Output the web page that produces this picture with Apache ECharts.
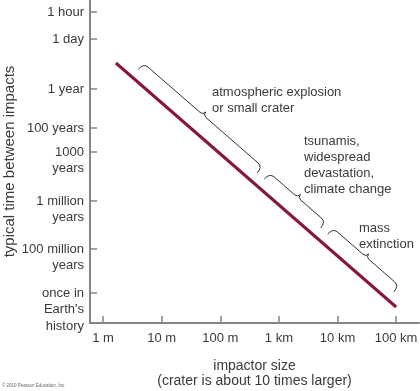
<!DOCTYPE html>
<html>
<head>
<meta charset="utf-8">
<script src="https://cdn.jsdelivr.net/npm/echarts@6/dist/echarts.min.js"></script>
<style>html,body{margin:0;padding:0;background:#fff;}#chart{width:420px;height:391px;}</style>
</head>
<body>
<div id="chart"></div>
<script>
// ---- data ----
// x: log10 of impactor size in metres
var xTickValues = [0, 1, 2, 3, 4, 5];
var xTickLabels = ['1 m', '10 m', '100 m', '1 km', '10 km', '100 km'];
// y: schematic position of the (non-uniform) time scale
var yTickValues = [311, 284, 234, 195, 171, 122, 74, 30];
var yTickLabels = ['1 hour', '1 day', '1 year', '100 years', '1000\nyears', '1 million\nyears', '100 million\nyears', "once in\nEarth's\nhistory"];
// the impact-frequency line
var lineSize = [0.22, 5.0];
var lineTime = [260, 16];
// braces: ranges of impactor size (log10 m)
var braceStart = [0.49, 2.64, 3.72];
var braceEnd = [2.52, 3.60, 4.85];
var braceLabels = ['atmospheric explosion\nor small crater', 'tsunamis,\nwidespread\ndevastation,\nclimate change', 'mass\nextinction'];

// ---- chart ----
var FONT = '"Liberation Sans", Arial, sans-serif';
var TXT = '#3a3a3a';
var AX = '#858585';

function timeAt(x) {
  return lineTime[0] + (x - lineSize[0]) * (lineTime[1] - lineTime[0]) / (lineSize[1] - lineSize[0]);
}
var lineData = lineSize.map(function (x, i) { return [x, lineTime[i]]; });
var braceData = braceStart.map(function (s, i) {
  return [s, timeAt(s), braceEnd[i], timeAt(braceEnd[i])];
});

var labelPos = [[212, 84], [304, 133], [359, 220]];

var chart = echarts.init(document.getElementById('chart'), null, {renderer: 'canvas'});
chart.setOption({
  animation: false,
  backgroundColor: '#fff',
  textStyle: {fontFamily: FONT},
  grid: {left: 90, right: 1, top: 0, bottom: 68, containLabel: false, outerBoundsMode: 'none'},
  xAxis: {
    type: 'value', min: -0.222, max: 5.39,
    name: 'impactor size\n(crater is about 10 times larger)',
    nameLocation: 'middle', nameGap: 36, nameMoveOverlap: false,
    nameTextStyle: {fontSize: 14, color: TXT, lineHeight: 15, fontFamily: FONT},
    axisLine: {show: true, onZero: false, lineStyle: {color: AX, width: 2}},
    axisTick: {show: true, inside: true, length: 7, customValues: xTickValues, lineStyle: {color: AX, width: 1.5}},
    axisLabel: {
      customValues: xTickValues, margin: 9, fontSize: 13, color: TXT, fontFamily: FONT,
      hideOverlap: false, showMinLabel: true, showMaxLabel: true,
      formatter: function (v) { var i = xTickValues.indexOf(Math.round(v)); return i >= 0 ? xTickLabels[i] : ''; }
    },
    splitLine: {show: false}
  },
  yAxis: {
    type: 'value', min: 0, max: 323,
    name: 'typical time between impacts',
    nameLocation: 'middle', nameGap: 73, nameRotate: 90, nameMoveOverlap: false,
    nameTextStyle: {fontSize: 15, color: TXT, fontFamily: FONT},
    axisLine: {show: true, onZero: false, lineStyle: {color: AX, width: 2}},
    axisTick: {show: true, inside: true, length: 7, customValues: yTickValues, lineStyle: {color: AX, width: 1.5}},
    axisLabel: {
      customValues: yTickValues, margin: 6, fontSize: 13, color: TXT, lineHeight: 16.5, fontFamily: FONT,
      verticalAlign: 'top', padding: [-8, 0, 0, 0],
      hideOverlap: false, showMinLabel: true, showMaxLabel: true,
      formatter: function (v) {
        var i = yTickValues.indexOf(Math.round(v));
        return i >= 0 ? yTickLabels[i] : '';
      }
    },
    splitLine: {show: false}
  },
  series: [
    {
      type: 'line', data: lineData, symbol: 'none', silent: true,
      lineStyle: {color: '#86173a', width: 3}
    },
    {
      type: 'custom', silent: true, data: braceData,
      encode: {x: [0, 2], y: [1, 3]},
      renderItem: function (params, api) {
        var p1 = api.coord([api.value(0), api.value(1)]);
        var p2 = api.coord([api.value(2), api.value(3)]);
        var dx = p2[0] - p1[0], dy = p2[1] - p1[1];
        var L = Math.sqrt(dx * dx + dy * dy);
        var ux = dx / L, uy = dy / L;
        var nx = uy, ny = -ux;
        function P(u, v) { return (p1[0] + ux * u + nx * v).toFixed(2) + ' ' + (p1[1] + uy * u + ny * v).toFixed(2); }
        var e = 10, b = 18, c = 22, h = 6, h2 = 4, m = L / 2;
        var d = 'M ' + P(0, e) + ' Q ' + P(0, b) + ' ' + P(h, b) +
          ' L ' + P(m - h2, b) + ' Q ' + P(m, b) + ' ' + P(m, c) +
          ' Q ' + P(m, b) + ' ' + P(m + h2, b) +
          ' L ' + P(L - h, b) + ' Q ' + P(L, b) + ' ' + P(L, e);
        return {
          type: 'path',
          shape: {pathData: d},
          style: {fill: null, stroke: '#333', lineWidth: 1}
        };
      }
    }
  ],
  graphic: braceLabels.map(function (t, i) {
    return {
      type: 'text', left: labelPos[i][0], top: labelPos[i][1], silent: true,
      style: {text: t, font: '13px ' + FONT, fill: TXT, lineHeight: 16}
    };
  }).concat([{
    type: 'text', left: 2, top: 383, silent: true,
    style: {text: '\u00a9 2010 Pearson Education, Inc.', font: '4.5px ' + FONT, fill: '#666'}
  }])
});
</script>
</body>
</html>
